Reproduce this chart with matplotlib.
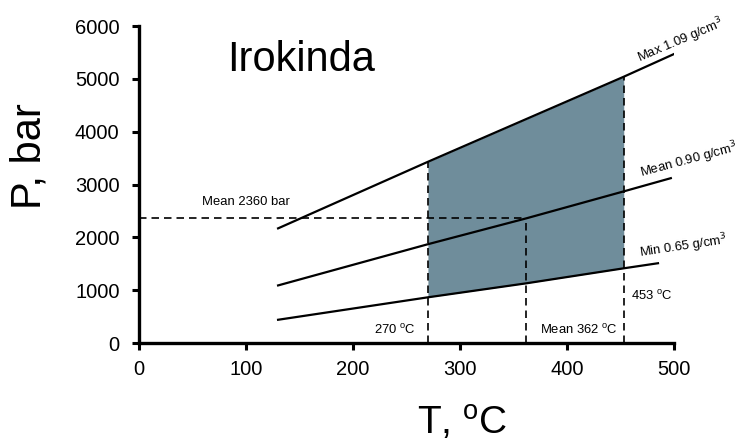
import matplotlib.pyplot as plt

plt.rcParams['font.family'] = ['Liberation Sans', 'DejaVu Sans']

# isochores: temperature (C) and pressure (bar) along each density line
T_iso = [130, 270, 362, 453, 500]
P_max = [2170, 3430, 4240, 5040, 5470]
T_mean = [130, 270, 362, 453, 497]
P_mean = [1090, 1870, 2360, 2870, 3120]
T_min = [130, 270, 362, 453, 485]
P_min = [440, 865, 1130, 1414, 1510]

iso_labels = ['Max 1.09 g/cm$^3$', 'Mean 0.90 g/cm$^3$', 'Min 0.65 g/cm$^3$']

# homogenisation temperatures and mean pressure
T_low, T_avg, T_high = 270, 362, 453
P_avg = 2360


def main():
    fig = plt.figure(figsize=(7.42, 4.43), dpi=100)
    ax = fig.add_axes([0.1873, 0.2257, 0.7211, 0.7156])

    # shaded field between min and max isochores
    Tf = [t for t in T_iso if T_low <= t <= T_high]
    top = [p for t, p in zip(T_iso, P_max) if T_low <= t <= T_high]
    bot = [p for t, p in zip(T_min, P_min) if T_low <= t <= T_high]
    ax.fill_between(Tf, bot, top, color='#6f8d9b', lw=0, zorder=1)

    ax.plot(T_iso, P_max, 'k', lw=1.6, zorder=3)
    ax.plot(T_mean, P_mean, 'k', lw=1.6, zorder=3)
    ax.plot(T_min, P_min, 'k', lw=1.6, zorder=3)

    dash = (0, (4.5, 3))
    ax.plot([T_low, T_low], [0, top[0]], 'k', ls=dash, lw=1.2, zorder=2)
    ax.plot([T_high, T_high], [0, top[-1]], 'k', ls=dash, lw=1.2, zorder=2)
    ax.plot([T_avg, T_avg], [0, P_avg], 'k', ls=dash, lw=1.2, zorder=2)
    ax.plot([0, T_avg], [P_avg, P_avg], 'k', ls=dash, lw=1.2, zorder=2)

    # isochore labels
    fs = 9.4
    ax.text(468, 5310, iso_labels[0], rotation=23, rotation_mode='anchor',
            ha='left', va='baseline', fontsize=fs)
    ax.text(470, 3140, iso_labels[1], rotation=15, rotation_mode='anchor',
            ha='left', va='baseline', fontsize=fs)
    ax.text(468, 1625, iso_labels[2], rotation=8.5, rotation_mode='anchor',
            ha='left', va='baseline', fontsize=fs)

    ax.text(59, 2610, 'Mean %d bar' % P_avg, fontsize=fs, va='baseline')
    ax.text(259, 180, '%d $^\\mathregular{o}$C' % T_low, fontsize=fs,
            ha='right', va='baseline')
    ax.text(447, 180, 'Mean %d $^\\mathregular{o}$C' % T_avg, fontsize=fs,
            ha='right', va='baseline')
    ax.text(460, 810, '%d $^\\mathregular{o}$C' % T_high, fontsize=fs,
            ha='left', va='baseline')

    ax.text(82, 5150, 'Irokinda', fontsize=30)

    ax.set_xlim(0, 500)
    ax.set_ylim(0, 6000)
    ax.set_xticks(range(0, 501, 100))
    ax.set_yticks(range(0, 6001, 1000))
    ax.tick_params(labelsize=14.5, width=2.2, length=5, direction='out')
    ax.tick_params(axis='y', pad=9)
    ax.tick_params(axis='x', pad=7)
    for s in ['top', 'right']:
        ax.spines[s].set_visible(False)
    for s in ['left', 'bottom']:
        ax.spines[s].set_linewidth(2.4)

    ax.set_xlabel('T, $^\\mathregular{o}$C', fontsize=28)
    ax.xaxis.set_label_coords(0.605, -0.19)
    ax.set_ylabel('P, bar', fontsize=30)
    ax.yaxis.set_label_coords(-0.168, 0.59)

    fig.savefig('out.png', dpi=100)


if __name__ == '__main__':
    main()
